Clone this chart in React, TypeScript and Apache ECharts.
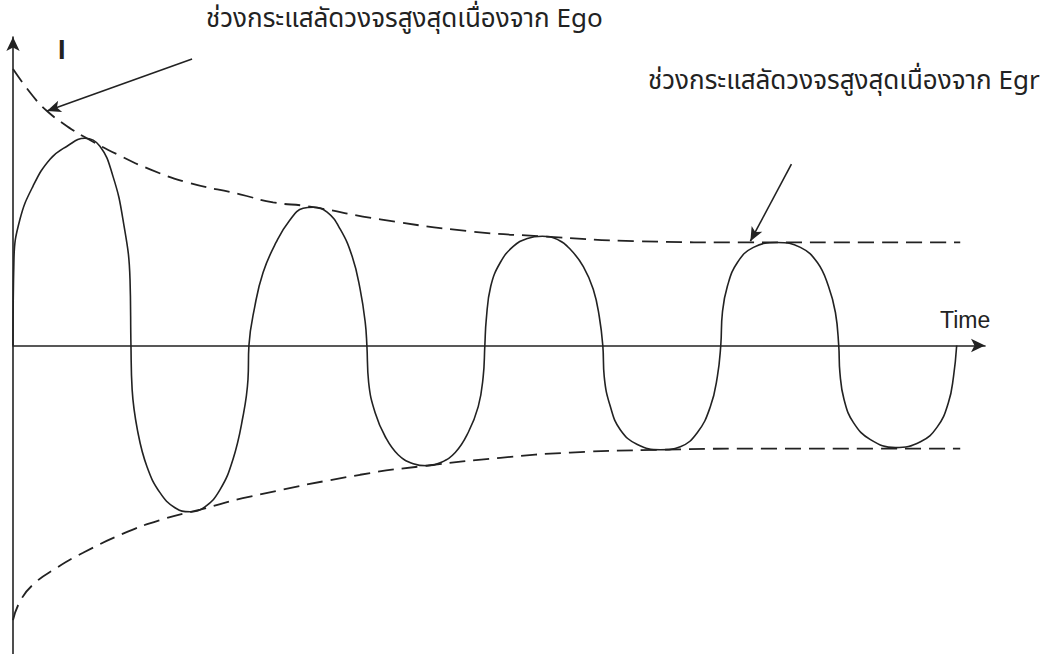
import React, { useEffect, useRef } from "react";
import * as echarts from "echarts";

// Time axis in ms (half cycle ≈ 10 ms), current in per-unit of the axis half-height
const waveT: number[] = [
  0, 0.08, 0.59, 1.69, 3.14, 4.58, 6.1, 7.37, 8.47, 9.32, 9.92, 10,
  10.1, 10.59, 11.36, 12.46, 13.73, 15.0, 16.27, 17.54, 18.64, 19.49, 19.92, 20,
  20.5, 21.2, 22.3, 23.4, 24.6, 25.45, 26.63, 27.74, 28.75, 29.43, 29.86, 30,
  30.15, 30.7, 31.55, 32.65, 33.93, 35.11, 36.22, 37.49, 38.59, 39.44, 39.86, 40,
  40.12, 40.5, 41.31, 42.41, 43.6, 44.87, 46.14, 47.24, 48.35, 49.19, 49.7, 50,
  50.12, 50.64, 51.48, 52.93, 54.88, 56.57, 58.02, 59.12, 59.71, 60,
  60.14, 60.56, 61.41, 62.77, 64.8, 66.75, 68.19, 69.13, 69.72, 70,
  70.1, 70.45, 71.25, 72.69, 74.81, 76.93, 78.37, 79.3, 79.73, 80,
];
const waveI: number[] = [
  0, 0.279, 0.409, 0.516, 0.604, 0.646, 0.672, 0.646, 0.549, 0.409, 0.214, 0,
  -0.143, -0.282, -0.393, -0.477, -0.526, -0.539, -0.523, -0.468, -0.37, -0.231, -0.11, 0,
  0.127, 0.237, 0.334, 0.403, 0.445, 0.448, 0.432, 0.377, 0.289, 0.182, 0.075, 0,
  -0.12, -0.218, -0.295, -0.354, -0.383, -0.39, -0.38, -0.347, -0.282, -0.198, -0.101, 0,
  0.084, 0.192, 0.269, 0.321, 0.347, 0.354, 0.344, 0.312, 0.256, 0.182, 0.094, 0,
  -0.101, -0.198, -0.273, -0.321, -0.338, -0.328, -0.282, -0.198, -0.101, 0,
  0.107, 0.192, 0.269, 0.318, 0.334, 0.318, 0.269, 0.192, 0.107, 0,
  -0.088, -0.175, -0.25, -0.305, -0.331, -0.312, -0.263, -0.185, -0.101, 0,
];

const upperT: number[] = [0, 1.7, 2.88, 4.58, 6.11, 8.82, 11.62, 14.76, 19.25, 22.05, 25.02, 31.13, 38.76, 44.87, 52.93, 62.5, 72.7, 80.3];
const upperI: number[] = [0.896, 0.808, 0.76, 0.711, 0.675, 0.62, 0.571, 0.529, 0.49, 0.464, 0.451, 0.409, 0.37, 0.354, 0.338, 0.334, 0.334, 0.334];

const lowerT: number[] = [0, 0.59, 1.7, 3.73, 5.94, 9.33, 12.47, 15.86, 20.1, 29.43, 34.94, 41.31, 47.24, 54.88, 64.2, 72.7, 80.3];
const lowerI: number[] = [-0.89, -0.83, -0.775, -0.72, -0.672, -0.61, -0.566, -0.532, -0.49, -0.419, -0.39, -0.364, -0.347, -0.338, -0.334, -0.334, -0.334];

const labelEgo = "ช่วงกระแสลัดวงจรสูงสุดเนื่องจาก Ego";
const labelEgr = "ช่วงกระแสลัดวงจรสูงสุดเนื่องจาก Egr";
const arrowEgoFrom: [number, number] = [15.18, 0.929];
const arrowEgoTo: [number, number] = [2.88, 0.76];
const arrowEgrFrom: [number, number] = [65.99, 0.588];
const arrowEgrTo: [number, number] = [62.51, 0.338];

const INK = "#222";
const THAI_FONT = '"Noto Sans Thai", "Noto Sans Thai Looped", "Loma", "Garuda", "Tlwg Typo", "DejaVu Sans", "Liberation Sans", sans-serif';

export default function App() {
  const ref = useRef<HTMLDivElement>(null);
  useEffect(() => {
    if (!ref.current) return;
    const chart = echarts.init(ref.current, undefined, { renderer: "svg" });
    const pairs = (a: number[], b: number[]) => a.map((v, i) => [v, b[i]]);
    const arrow = (from: [number, number], to: [number, number]) => [
      { coord: from, symbol: "none" },
      { coord: to, symbol: "arrow", symbolSize: [9, 14] },
    ];
    const dashStyle = { color: INK, width: 1.8, type: [16, 8] };
    chart.setOption({
      animation: false,
      backgroundColor: "#fff",
      grid: { left: 13, right: 60, top: 37, bottom: 0 },
      xAxis: {
        type: "value",
        min: 0,
        max: 82.4,
        axisLine: { show: true, onZero: true, symbol: ["none", "arrow"], symbolSize: [10, 14], lineStyle: { color: INK, width: 1.6 } },
        axisTick: { show: false },
        axisLabel: { show: false },
        splitLine: { show: false },
      },
      yAxis: {
        type: "value",
        min: -1,
        max: 1,
        axisLine: { show: true, symbol: ["none", "arrow"], symbolSize: [10, 14], lineStyle: { color: INK, width: 1.6 } },
        axisTick: { show: false },
        axisLabel: { show: false },
        splitLine: { show: false },
      },
      series: [
        {
          type: "line",
          data: pairs(waveT, waveI),
          showSymbol: false,
          smooth: 0.45,
          lineStyle: { color: INK, width: 1.6 },
          silent: true,
        },
        {
          type: "line",
          data: pairs(upperT, upperI),
          showSymbol: false,
          smooth: 0.5,
          lineStyle: dashStyle,
          silent: true,
          markLine: {
            silent: true,
            label: { show: false },
            lineStyle: { color: INK, width: 1.6, type: "solid" },
            data: [arrow(arrowEgoFrom, arrowEgoTo), arrow(arrowEgrFrom, arrowEgrTo)],
          },
        },
        {
          type: "line",
          data: pairs(lowerT, lowerI),
          showSymbol: false,
          smooth: 0.5,
          lineStyle: dashStyle,
          silent: true,
        },
      ],
      graphic: [
        { type: "text", left: 206, top: 6, style: { text: labelEgo, font: `26px ${THAI_FONT}`, fill: INK } },
        { type: "text", left: 648, top: 68, style: { text: labelEgr, font: `26px ${THAI_FONT}`, fill: INK } },
        { type: "text", left: 58, top: 36, style: { text: "I", font: `bold 27px Arial, "Liberation Sans", sans-serif`, fill: INK } },
        { type: "text", left: 940, top: 308, style: { text: "Time", font: `23px Arial, "Liberation Sans", sans-serif`, fill: INK } },
      ],
    });
    return () => chart.dispose();
  }, []);
  return <div ref={ref} style={{ position: "fixed", left: 0, top: 0, width: 1045, height: 654, background: "#fff" }} />;
}
